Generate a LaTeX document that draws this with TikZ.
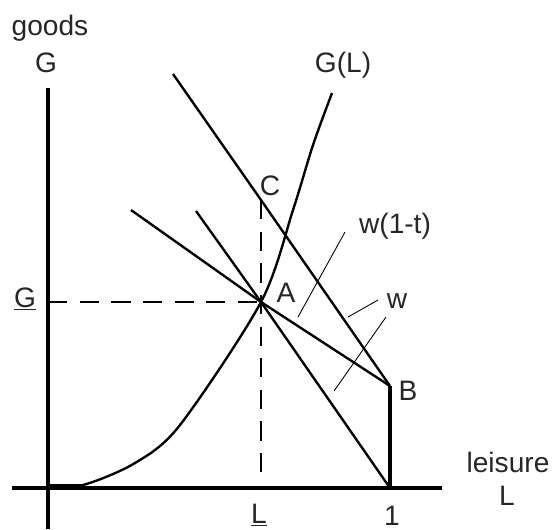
\documentclass[tikz,border=0pt]{standalone}
\usepackage{fontspec}
\setmainfont{Liberation Sans}
\usepackage{tikz}
\usetikzlibrary{positioning}

\tikzset{
  axisline/.style={line width=1.9pt},
  budget/.style={line width=1.35pt},
  guide/.style={line width=0.7pt, dash pattern=on 11pt off 7pt},
  leader/.style={line width=0.5pt},
  lbl/.style={font=\fontsize{16}{18}\selectfont, text=black!85, inner sep=0pt, anchor=base},
}

\begin{document}
\begin{tikzpicture}[x=0.02cm, y=-0.02cm]
\useasboundingbox (0,0) rectangle (553,529);
% ---- key points ----
\coordinate (O) at (48,488);
\coordinate (A) at (261,302);
\coordinate (B) at (390,386);
\coordinate (one) at (390,488);
\coordinate (C) at (261,200);
\coordinate (Gbar) at (48,302);
\coordinate (Lbar) at (261,472);
\coordinate (yTop) at (48,88);
\coordinate (yEnd) at (48,529);
\coordinate (xStart) at (12,488);
\coordinate (xEnd) at (442,488);
% ---- axes ----
\draw[axisline] (yEnd) -- (yTop);
\draw[axisline] (xStart) -- (xEnd);
\node[lbl] (goods) at (50,35) {goods};
\node[lbl] (Gaxis) at (46,72) {G};
\node[lbl] (leisure) at (508,472) {leisure};
\node[lbl] (Laxis) at (507,505) {L};
\node[lbl] (Gbarlbl) at (25,307) {\underline{G}};
\node[lbl] (Lbarlbl) at (259,523) {\underline{L}};
\node[lbl] (onelbl) at (392,525) {1};
% ---- dashed guides ----
\draw[guide] (Gbar) -- (A);
\draw[guide] (C) -- (Lbar);
% ---- budget lines ----
\coordinate (topW) at (173,74);
\coordinate (topT) at (131,210);
\coordinate (topA) at (196,211);
\draw[budget] (topW) -- (C) -- (B);
\draw[budget] (topT) -- (A) -- (B);
\draw[budget] (topA) -- (A) -- (one);
\draw[axisline] (B) -- (one);
% ---- G(L) curve ----
\draw[line width=2.6pt] (48,486.5) -- (83,486.5);
\draw[budget] plot[smooth] coordinates {(48,486) (83,485) (135,463) (180,425) (A) (293,210) (313,145) (332,93)};
\node[lbl] (GL) at (343,72) {G(L)};
% ---- point labels ----
\node[lbl] (Clbl) at (270,195) {C};
\node[lbl] (Albl) at (286,302) {A};
\node[lbl] (Blbl) at (408,400) {B};
% ---- slope labels and leaders ----
\node[lbl] (wt) at (395,233) {w(1-t)};
\node[lbl] (wlbl) at (397,308) {w};
\coordinate (wtFrom) at (345,232);
\coordinate (wtTo) at (298,317);
\coordinate (wFromA) at (378,300);
\coordinate (wToA) at (348,317);
\coordinate (wFromB) at (386,317);
\coordinate (wToB) at (334,391);
\draw[leader] (wtFrom) -- (wtTo);
\draw[leader] (wFromA) -- (wToA);
\draw[leader] (wFromB) -- (wToB);
\end{tikzpicture}
\end{document}
